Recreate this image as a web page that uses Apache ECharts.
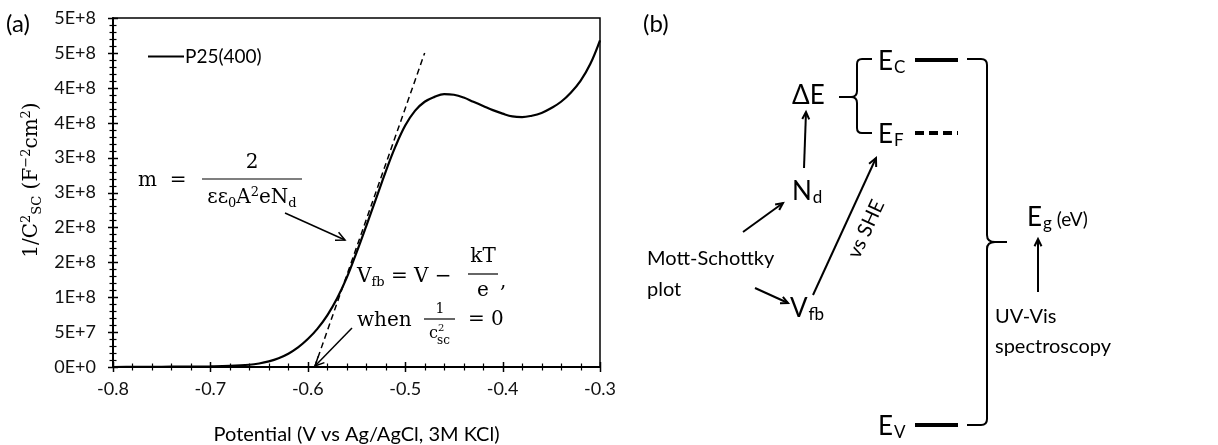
<!DOCTYPE html>
<html>
<head>
<meta charset="utf-8">
<script src="https://cdn.jsdelivr.net/npm/echarts@6/dist/echarts.min.js"></script>
<style>
  body { margin: 0; background: #fff; }
  #chart { width: 1218px; height: 445px; }
</style>
</head>
<body>
<div id="chart"></div>
<script>
// Mott-Schottky curve, P25(400)
const potential = [-0.80, -0.78, -0.76, -0.74, -0.72, -0.70, -0.68, -0.66, -0.65, -0.64,
  -0.63, -0.62, -0.61, -0.60, -0.59, -0.58, -0.57, -0.56, -0.55, -0.54,
  -0.53, -0.52, -0.51, -0.50, -0.49, -0.48, -0.47, -0.46, -0.45, -0.44,
  -0.43, -0.42, -0.41, -0.40, -0.39, -0.38, -0.37, -0.36, -0.35, -0.34,
  -0.33, -0.32, -0.31, -0.30];
const invC2 = [0, 1e5, 2e5, 4e5, 6e5, 9e5, 1.6e6, 3.2e6, 5.0e6, 8.0e6,
  1.25e7, 1.9e7, 2.8e7, 4.0e7, 5.5e7, 7.4e7, 9.8e7, 1.28e8, 1.64e8, 2.02e8,
  2.41e8, 2.80e8, 3.16e8, 3.46e8, 3.67e8, 3.80e8, 3.87e8, 3.91e8, 3.90e8, 3.86e8,
  3.80e8, 3.74e8, 3.68e8, 3.63e8, 3.59e8, 3.58e8, 3.60e8, 3.64e8, 3.71e8, 3.80e8,
  3.93e8, 4.10e8, 4.34e8, 4.68e8];

// dashed tangent (flat band extrapolation)
const tangentX = [-0.593, -0.48];
const tangentY = [0, 4.5e8];

const xTickLabels = ['-0.8', '-0.7', '-0.6', '-0.5', '-0.4', '-0.3'];
const yTickLabels = ['0E+0', '5E+7', '1E+8', '2E+8', '2E+8', '3E+8', '3E+8', '4E+8', '4E+8', '5E+8', '5E+8'];

const sans = 'Lato';
const serif = 'DejaVu Serif';

function arrow(x1, y1, x2, y2, w, h) {
  const a = Math.atan2(y2 - y1, x2 - x1);
  const s = 0.45;
  h = h || 9;
  return {
    type: 'group', silent: true,
    children: [
      { type: 'line', shape: { x1: x1, y1: y1, x2: x2, y2: y2 }, style: { stroke: '#000', lineWidth: w } },
      { type: 'polyline', shape: { points: [
          [x2 - h * Math.cos(a - s), y2 - h * Math.sin(a - s)], [x2, y2],
          [x2 - h * Math.cos(a + s), y2 - h * Math.sin(a + s)]] },
        style: { stroke: '#000', lineWidth: w, fill: null } }
    ]
  };
}
function txt(x, y, text, size, family, align, rich, rot) {
  const style = { text: text, fontSize: size, fontFamily: family, fill: '#000',
    align: align || 'left', verticalAlign: 'middle' };
  if (rich) style.rich = rich;
  return { type: 'text', x: x, y: y, rotation: rot || 0, silent: true, style: style };
}
function seg(x1, y1, x2, y2, w, dash) {
  const style = { stroke: '#000', lineWidth: w };
  if (dash) style.lineDash = dash;
  return { type: 'line', silent: true, shape: { x1: x1, y1: y1, x2: x2, y2: y2 }, style: style };
}
function curve(x1, y1, cx, cy, x2, y2, w) {
  return { type: 'bezierCurve', silent: true,
    shape: { x1: x1, y1: y1, cpx1: cx, cpy1: cy, x2: x2, y2: y2 },
    style: { stroke: '#000', lineWidth: w, fill: null } };
}

const serifRich = {
  n: { fontSize: 20, fontFamily: serif, lineHeight: 24, verticalAlign: 'middle' },
  sp: { fontSize: 13, fontFamily: serif, lineHeight: 13, verticalAlign: 'top' },
  sb: { fontSize: 13, fontFamily: serif, lineHeight: 13, verticalAlign: 'bottom' }
};
const eRich = {
  n: { fontSize: 26, fontFamily: sans, lineHeight: 28, verticalAlign: 'middle' },
  sb: { fontSize: 17, fontFamily: sans, lineHeight: 17, verticalAlign: 'bottom', padding: [0, 0, 0, 1] },
  m: { fontSize: 19, fontFamily: sans, lineHeight: 28, verticalAlign: 'middle', padding: [4, 0, 0, 0] }
};

const chart = echarts.init(document.getElementById('chart'));

const graphics = [
  // panel labels
  txt(6, 24, '(a)', 24, sans),
  txt(643, 24, '(b)', 24, sans),
  // y axis title
  txt(32, 180, '{n|1/C}{sp|2}{sb|SC}{n| (F}{sp|−2}{n|cm}{sp|2}{n|)}', 20, serif, 'center', serifRich, Math.PI / 2),
  // slope formula
  txt(138, 181, 'm  =', 20, serif),
  txt(252, 163, '2', 20, serif, 'center'),
  seg(202, 179, 302, 179, 1.2),
  txt(252, 198, '{n|εε}{sb|0}{n|A}{sp|2}{n|eN}{sb|d}', 20, serif, 'center', serifRich),
  arrow(285, 213, 345, 240, 1.5, 10),
  // flat band formula
  txt(357, 277, '{n|V}{sb|fb}{n| = V − }', 20, serif, 'left', serifRich),
  txt(483, 257, 'kT', 20, serif, 'center'),
  seg(468, 274, 498, 274, 1.2),
  txt(483, 291, 'e', 20, serif, 'center'),
  txt(500, 282, ',', 20, serif),
  txt(357, 321, 'when', 20, serif),
  txt(440, 309, '1', 14, serif, 'center'),
  seg(424, 319, 455, 319, 1.2),
  txt(429, 334, 'c', 16, serif),
  txt(438, 328, '2', 10, serif),
  txt(437, 341, 'sc', 12, serif),
  txt(468, 320, '= 0', 20, serif),
  arrow(352, 328, 315, 366, 1.5, 10),

  // panel (b) diagram
  txt(792, 96, 'ΔE', 26, sans),
  seg(839, 97, 851, 97, 2),
  seg(872, 59, 862, 59, 2), curve(862, 59, 857, 59, 857, 64, 2),
  seg(857, 64, 857, 91, 2), curve(857, 91, 857, 97, 851, 97, 2),
  curve(851, 97, 857, 97, 857, 103, 2), seg(857, 103, 857, 128, 2),
  curve(857, 128, 857, 133, 862, 133, 2), seg(862, 133, 872, 133, 2),
  txt(878, 62, '{n|E}{sb|C}', 26, sans, 'left', eRich),
  txt(878, 135, '{n|E}{sb|F}', 26, sans, 'left', eRich),
  txt(878, 427, '{n|E}{sb|V}', 26, sans, 'left', eRich),
  seg(915, 60, 958, 60, 4),
  seg(915, 133, 958, 133, 4, [9, 5]),
  seg(915, 425, 958, 425, 4),
  // big bracket
  seg(967, 59, 981, 59, 2), curve(981, 59, 987, 59, 987, 65, 2),
  seg(987, 65, 987, 235, 2), curve(987, 235, 987, 242, 995, 242, 2),
  seg(995, 242, 1007, 242, 2),
  curve(995, 242, 987, 242, 987, 249, 2), seg(987, 249, 987, 419, 2),
  curve(987, 419, 987, 425, 981, 425, 2), seg(981, 425, 967, 425, 2),
  txt(1027, 218, '{n|E}{sb|g}{m| (eV)}', 26, sans, 'left', eRich),
  arrow(1038, 292, 1038, 239, 2, 8),
  txt(995, 317, 'UV-Vis', 20, sans),
  txt(995, 347, 'spectroscopy', 20, sans),
  txt(792, 192, '{n|N}{sb|d}', 26, sans, 'left', eRich),
  arrow(804, 168, 806, 112, 2, 8),
  txt(647, 259, 'Mott-Schottky', 20, sans),
  txt(647, 290, 'plot', 20, sans),
  arrow(743, 232, 783, 203, 2, 8),
  arrow(755, 288, 788, 303, 2, 8),
  txt(790, 309, '{n|V}{sb|fb}', 26, sans, 'left', eRich),
  arrow(813, 295, 876, 158, 2, 9),
  txt(866, 229, 'vs SHE', 20, sans, 'center', null, 65.3 * Math.PI / 180)
];

chart.setOption({
  backgroundColor: '#fff',
  animation: false,
  grid: { left: 113, right: 618, top: 18, bottom: 78, show: true, borderColor: '#000', borderWidth: 1.5,
    outerBoundsMode: 'none' },
  legend: {
    left: 143, top: 42, icon: 'rect', itemWidth: 36, itemHeight: 2,
    itemGap: 0, data: ['P25(400)'],
    textStyle: { fontFamily: sans, fontSize: 19, color: '#000', padding: [0, 0, 0, -4] }
  },
  xAxis: {
    type: 'value', min: -0.8, max: -0.3, interval: 0.1,
    axisLine: { show: true, onZero: false, lineStyle: { color: '#000', width: 2 } },
    axisTick: { show: false }, minorTick: { show: false },
    splitLine: { show: false },
    axisLabel: { fontFamily: sans, fontSize: 18, color: '#111', margin: 13,
      formatter: v => xTickLabels[Math.round((v + 0.8) / 0.1)] },
    name: 'Potential (V vs Ag/AgCl, 3M KCl)', nameLocation: 'middle', nameGap: 58,
    nameTextStyle: { fontFamily: sans, fontSize: 20, color: '#000' }
  },
  yAxis: {
    type: 'value', min: 0, max: 5e8, interval: 5e7,
    axisLine: { show: true, onZero: false, lineStyle: { color: '#000', width: 2 } },
    axisTick: { show: false }, minorTick: { show: false },
    splitLine: { show: false },
    axisLabel: { fontFamily: sans, fontSize: 18, color: '#111', margin: 17,
      formatter: v => yTickLabels[Math.round(v / 5e7)] }
  },
  series: [{
    name: 'P25(400)', type: 'line', smooth: 0.4, showSymbol: false, symbol: 'none',
    data: potential.map((x, i) => [x, invC2[i]]),
    lineStyle: { color: '#000', width: 2.2 }, itemStyle: { color: '#000' }
  }, {
    name: 'tangent', type: 'line', showSymbol: false, symbol: 'none',
    data: tangentX.map((x, i) => [x, tangentY[i]]),
    lineStyle: { color: '#000', width: 1.5, type: [6, 4] }
  }],
  graphic: graphics
});

// cross ticks (Excel style, through the axis line), placed with the axis scales
const ticks = [];
for (let i = 0; i <= 25; i++) {
  const v = -0.8 + i * 0.02;
  const p = chart.convertToPixel({ gridIndex: 0 }, [v, 0]);
  const len = i % 5 === 0 ? 5 : 3.5;
  ticks.push(seg(Math.round(p[0]) + 0.5, p[1] - len, Math.round(p[0]) + 0.5, p[1] + len, i % 5 === 0 ? 1.5 : 1.2));
}
for (let i = 0; i <= 50; i++) {
  const v = i * 1e7;
  const p = chart.convertToPixel({ gridIndex: 0 }, [-0.8, v]);
  const len = i % 5 === 0 ? 5 : 3.5;
  ticks.push(seg(p[0] - len, Math.round(p[1]) + 0.5, p[0] + len, Math.round(p[1]) + 0.5, i % 5 === 0 ? 1.5 : 1.2));
}
chart.setOption({ graphic: graphics.concat(ticks) });
</script>
</body>
</html>
